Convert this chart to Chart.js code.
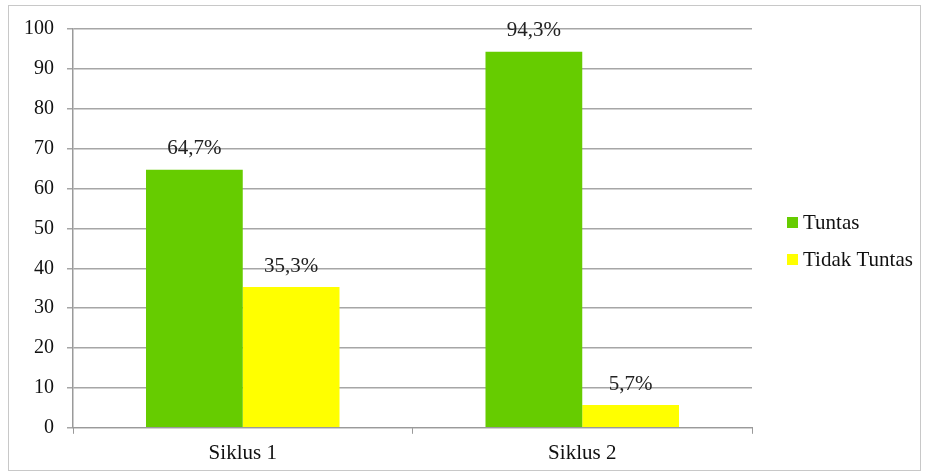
<!DOCTYPE html>
<html>
<head>
<meta charset="utf-8">
<script src="https://cdn.jsdelivr.net/npm/chart.js@4/dist/chart.umd.min.js"></script>
<style>
  html, body { margin: 0; padding: 0; background: #fff; }
  #wrap { width: 927px; height: 474px; position: relative; }
</style>
</head>
<body>
<div id="wrap"><canvas id="chart"></canvas></div>
<script>
// chart data
const categories = ['Siklus 1', 'Siklus 2'];
const seriesNames = ['Tuntas', 'Tidak Tuntas'];
const tuntas = [64.7, 94.3];
const tidakTuntas = [35.3, 5.7];
const valueLabels = [['64,7%', '94,3%'], ['35,3%', '5,7%']];
const seriesColors = ['#66CC00', '#FFFF00'];

const serif = '"Liberation Serif", "DejaVu Serif", serif';

// outer frame around the whole chart
const framePlugin = {
  id: 'frame',
  beforeDraw(chart) {
    const ctx = chart.ctx;
    ctx.save();
    ctx.strokeStyle = '#c8c8c8';
    ctx.lineWidth = 1;
    ctx.strokeRect(8.5, 5.5, 912, 465);
    ctx.restore();
  }
};

// value labels above bars
const valueLabelPlugin = {
  id: 'valueLabels',
  afterDatasetsDraw(chart) {
    const ctx = chart.ctx;
    ctx.save();
    ctx.font = '21px ' + serif;
    ctx.fillStyle = '#222';
    ctx.textAlign = 'center';
    ctx.textBaseline = 'middle';
    chart.data.datasets.forEach((ds, di) => {
      chart.getDatasetMeta(di).data.forEach((bar, i) => {
        ctx.fillText(valueLabels[di][i], bar.x, bar.y - 21);
      });
    });
    ctx.restore();
  }
};

// legend on the right side
const sideLegendPlugin = {
  id: 'sideLegend',
  afterDraw(chart) {
    const ctx = chart.ctx;
    const x = 787, y0 = 223, gap = 37;
    ctx.save();
    ctx.font = '21px ' + serif;
    ctx.textBaseline = 'middle';
    ctx.textAlign = 'left';
    seriesNames.forEach((name, i) => {
      const y = y0 + i * gap;
      ctx.fillStyle = seriesColors[i];
      ctx.fillRect(x, y - 6, 11, 11);
      ctx.fillStyle = '#111';
      ctx.fillText(name, x + 16, y);
    });
    ctx.restore();
  }
};

new Chart(document.getElementById('chart'), {
  type: 'bar',
  data: {
    labels: categories,
    datasets: [
      {
        label: seriesNames[0],
        data: tuntas,
        backgroundColor: seriesColors[0],
        categoryPercentage: 0.57,
        barPercentage: 1.0
      },
      {
        label: seriesNames[1],
        data: tidakTuntas,
        backgroundColor: seriesColors[1],
        categoryPercentage: 0.57,
        barPercentage: 1.0
      }
    ]
  },
  options: {
    responsive: true,
    maintainAspectRatio: false,
    animation: false,
    layout: {
      padding: { left: 11, right: 175, top: 29, bottom: 1 }
    },
    plugins: {
      legend: { display: false },
      tooltip: { enabled: false }
    },
    scales: {
      x: {
        grid: {
          drawOnChartArea: false,
          drawTicks: true,
          tickLength: 6,
          color: '#9a9a9a'
        },
        border: { color: '#9a9a9a', width: 1 },
        ticks: {
          color: '#111',
          padding: 7,
          font: { family: serif, size: 21 }
        }
      },
      y: {
        min: 0,
        max: 100,
        ticks: {
          stepSize: 10,
          color: '#111',
          padding: 13,
          font: { family: serif, size: 20 }
        },
        grid: {
          color: '#a6a6a6',
          lineWidth: 1.5,
          tickLength: 6
        },
        border: { color: '#9a9a9a', width: 1.5 }
      }
    }
  },
  plugins: [framePlugin, valueLabelPlugin, sideLegendPlugin]
});
</script>
</body>
</html>
